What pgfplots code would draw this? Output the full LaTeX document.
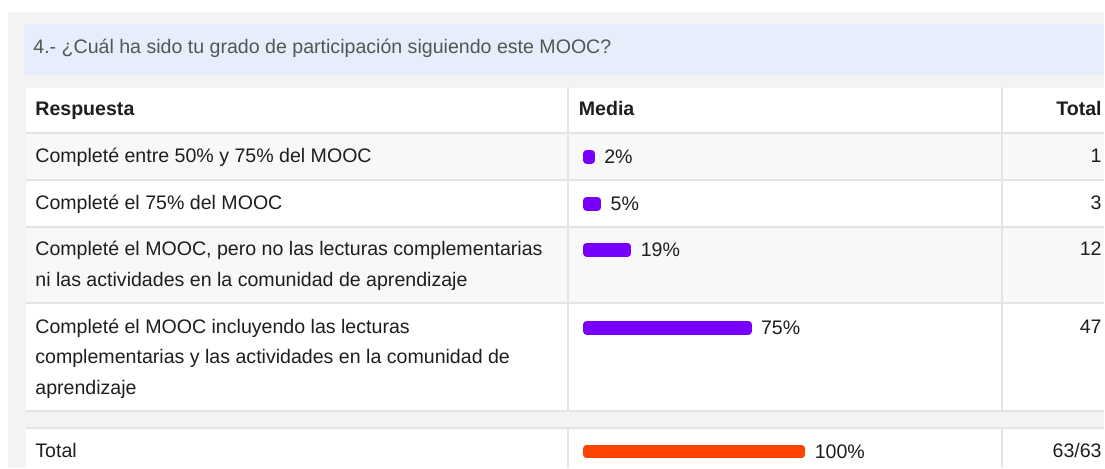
\documentclass[border=0pt]{standalone}
\usepackage{pgfplots}
\pgfplotsset{compat=1.18}
\usepackage{pgfplotstable}
\usepackage{fontspec}
\setmainfont{Liberation Sans}
\definecolor{panel}{HTML}{F3F3F3}
\definecolor{band}{HTML}{E5EEFA}
\definecolor{stripe}{HTML}{F8F8F8}
\definecolor{rule}{HTML}{E4E4E4}
\definecolor{txt}{HTML}{1E1E1E}
\definecolor{ttl}{HTML}{555555}
\definecolor{purp}{HTML}{7700FF}
\definecolor{orng}{HTML}{FF4300}

\pgfplotstableread{
y pct
157 2
204 5
250 19
328 75
}\mediadata
\pgfplotstableread{
y pct
452 100
}\totaldata

\begin{document}
\begin{tikzpicture}[font=\fontsize{9.8pt}{12pt}\selectfont,
  lbl/.style={inner sep=0pt, text=txt}]
\begin{axis}[at={(0,0)}, anchor=north west, scale only axis,
  width=552.5pt, height=234pt, xmin=0, xmax=1105, ymin=0, ymax=468,
  y dir=reverse, hide axis, clip=false]
  % backgrounds
  \fill[white] (axis cs:0,0) rectangle (axis cs:1105,468);
  \fill[panel] (axis cs:8,12) rectangle (axis cs:1105,468);
  \fill[band] (axis cs:24,24) rectangle (axis cs:1105,75);
  \fill[white] (axis cs:26,88) rectangle (axis cs:1105,468);
  \fill[stripe] (axis cs:26,133) rectangle (axis cs:1105,180);
  \fill[stripe] (axis cs:26,227) rectangle (axis cs:1105,303);
  \fill[panel] (axis cs:26,411) rectangle (axis cs:1105,428);
  \draw[rule, line width=1pt] (axis cs:26,133) -- (axis cs:1105,133);
  \draw[rule, line width=1pt] (axis cs:26,180) -- (axis cs:1105,180);
  \draw[rule, line width=1pt] (axis cs:26,227) -- (axis cs:1105,227);
  \draw[rule, line width=1pt] (axis cs:26,303) -- (axis cs:1105,303);
  \draw[rule, line width=1pt] (axis cs:26,411) -- (axis cs:1105,411);
  \draw[rule, line width=1pt] (axis cs:26,428) -- (axis cs:1105,428);
  \draw[rule, line width=1pt] (axis cs:569,88) -- (axis cs:569,411);
  \draw[rule, line width=1pt] (axis cs:1003,88) -- (axis cs:1003,411);
  \draw[rule, line width=1pt] (axis cs:569,428) -- (axis cs:569,468);
  \draw[rule, line width=1pt] (axis cs:1003,428) -- (axis cs:1003,468);
  % title
  \node[lbl, text=ttl, anchor=base west] at (axis cs:33,54) {4.- ¿Cuál ha sido tu grado de participación siguiendo este MOOC?};
  % header
  \node[lbl, anchor=base west, font=\fontsize{9.8pt}{12pt}\selectfont\bfseries] at (axis cs:35,116) {Respuesta};
  \node[lbl, anchor=base west, font=\fontsize{9.8pt}{12pt}\selectfont\bfseries] at (axis cs:579,116) {Media};
  \node[lbl, anchor=base east, font=\fontsize{9.8pt}{12pt}\selectfont\bfseries] at (axis cs:1103,116) {Total};
  % labels
  \node[lbl, anchor=base west] at (axis cs:35,163) {Completé entre 50\% y 75\% del MOOC};
  \node[lbl, anchor=base west] at (axis cs:35,210) {Completé el 75\% del MOOC};
  \node[lbl, anchor=base west] at (axis cs:35,256) {Completé el MOOC, pero no las lecturas complementarias};
  \node[lbl, anchor=base west] at (axis cs:35,287) {ni las actividades en la comunidad de aprendizaje};
  \node[lbl, anchor=base west] at (axis cs:35,334) {Completé el MOOC incluyendo las lecturas};
  \node[lbl, anchor=base west] at (axis cs:35,364) {complementarias y las actividades en la comunidad de};
  \node[lbl, anchor=base west] at (axis cs:35,395) {aprendizaje};
  \node[lbl, anchor=base west] at (axis cs:35,458) {Total};
  % totals
  \node[lbl, anchor=base east] at (axis cs:1103,163) {1};
  \node[lbl, anchor=base east] at (axis cs:1103,210) {3};
  \node[lbl, anchor=base east] at (axis cs:1103,256) {12};
  \node[lbl, anchor=base east] at (axis cs:1103,334) {47};
  \node[lbl, anchor=base east] at (axis cs:1103,458) {63/63};
\end{axis}
\begin{axis}[at={(293.75pt,0)}, anchor=north west, scale only axis,
  width=107.5pt, height=234pt, xmin=0, xmax=100, ymin=0, ymax=468,
  y dir=reverse, hide axis, clip=false, xbar, bar width=3.3pt, bar shift=0pt,
  /pgf/number format/assume math mode=true,
  nodes near coords={\pgfmathprintnumber{\pgfplotspointmeta}\%},
  every node near coord/.append style={anchor=west, inner sep=0pt, xshift=4.75pt, text=txt}]
  \addplot[fill=purp, draw=purp, line width=3.5pt, line join=round] table[x=pct, y=y] {\mediadata};
  \addplot[fill=orng, draw=orng, line width=3.5pt, line join=round] table[x=pct, y=y] {\totaldata};
\end{axis}
\end{tikzpicture}
\end{document}
